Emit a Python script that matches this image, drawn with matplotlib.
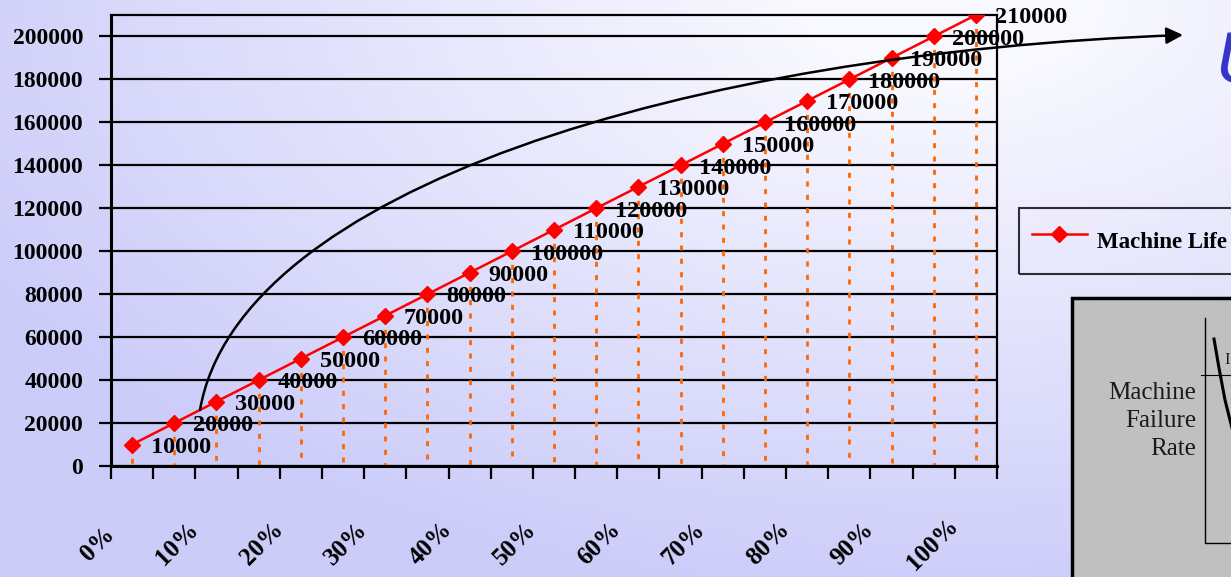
import numpy as np
import matplotlib
matplotlib.use('Agg')
import matplotlib.pyplot as plt
from matplotlib.path import Path
from matplotlib.patches import FancyArrowPatch, Rectangle
from matplotlib.lines import Line2D
from matplotlib.transforms import ScaledTranslation

# data
machine_life = [10000, 20000, 30000, 40000, 50000, 60000, 70000, 80000, 90000, 100000,
                110000, 120000, 130000, 140000, 150000, 160000, 170000, 180000, 190000,
                200000, 210000]
pct_labels = ['0%', '10%', '20%', '30%', '40%', '50%', '60%', '70%', '80%', '90%', '100%']
y_ticks = [0, 20000, 40000, 60000, 80000, 100000, 120000, 140000, 160000, 180000, 200000]
legend_label = 'Machine Life'
inset_text = 'Machine\nFailure\nRate'

plt.rcParams['font.family'] = ['Liberation Serif', 'DejaVu Serif']

W, H = 1231, 577
fig = plt.figure(figsize=(W / 100, H / 100), dpi=100)


def px(x, y):
    # pixel position (from top left) -> figure fraction
    return (x / W, 1 - y / H)


# background gradient
bg = fig.add_axes([0, 0, 1, 1], zorder=-10)
xx, yy = np.meshgrid(np.linspace(0, W, 300), np.linspace(0, H, 150))
d = np.sqrt(((xx - 950) / 1000) ** 2 + (yy / 550) ** 2)
t = np.clip(1.15 - 1.05 * d, 0, 1)
dark = np.array([0.80, 0.80, 0.98])
light = np.array([0.975, 0.975, 1.0])
bg.imshow(dark + t[..., None] * (light - dark), extent=[0, W, H, 0], aspect='auto')
bg.set_xlim(0, W)
bg.set_ylim(H, 0)
bg.axis('off')

# main chart
ax = fig.add_axes([111 / W, 1 - 466 / H, (997 - 111) / W, (466 - 15) / H])
ax.set_facecolor('none')
x = np.arange(len(machine_life))

ax.vlines(x, machine_life, 0, colors='#ff6600', lw=2.0, linestyles=(0, (1.8, 3.0)), zorder=2)
ln, = ax.plot(x, machine_life, color='red', lw=1.8, marker='D', ms=8, label=legend_label, zorder=3)

for i, v in zip(x, machine_life):
    ax.annotate(str(v), (i, v), xytext=(13.5, -2), textcoords='offset points',
                ha='left', va='center', fontsize=17.5, fontweight='bold', zorder=5)

ax.set_xlim(-0.5, len(machine_life) - 0.5)
ax.set_ylim(0, 210000)

ax.set_yticks(y_ticks)
ax.set_yticklabels([str(v) for v in y_ticks], fontsize=17, fontweight='bold')
ax.yaxis.grid(True, color='black', lw=1.6)
ax.set_axisbelow(True)
ax.tick_params(axis='y', direction='out', length=9, width=1.6, pad=11)

ax.set_xticks(np.arange(-0.5, len(machine_life), 1), minor=True)
ax.set_xticks(x[::2])
ax.set_xticklabels(pct_labels, fontsize=18, fontweight='bold', rotation=45, ha='right', va='center')
ax.tick_params(axis='x', which='minor', direction='out', length=9, width=1.6)
ax.tick_params(axis='x', which='major', length=0, pad=56)
for lab in ax.get_xticklabels():
    lab.set_transform(lab.get_transform() + ScaledTranslation(-0.13, 0, fig.dpi_scale_trans))

for side in ['left', 'bottom']:
    ax.spines[side].set_linewidth(2.2)
for side in ['top', 'right']:
    ax.spines[side].set_linewidth(1.6)

# legend (runs off the right edge like the slide)
leg = fig.legend(handles=[ln], loc='upper left', bbox_to_anchor=px(1019, 208), borderaxespad=0,
                 fancybox=False, edgecolor='black', facecolor='none', framealpha=None,
                 prop={'size': 16.5, 'weight': 'bold'}, handlelength=2.4, handletextpad=0.45,
                 borderpad=0.55, handleheight=2.35)
leg.get_frame().set_linewidth(1.5)

# curved arrow
pts = [px(200, 410), px(238, 190), px(685, 53), px(1183, 35)]
arrow = FancyArrowPatch(path=Path(pts, [Path.MOVETO, Path.CURVE4, Path.CURVE4, Path.CURVE4]),
                        arrowstyle='-|>', mutation_scale=25, lw=1.8, color='black',
                        transform=fig.transFigure)
fig.add_artist(arrow)

# bathtub picture at bottom right
box = Rectangle(px(1072, 640), 300 / W, (640 - 298) / H, transform=fig.transFigure,
                facecolor='#c0c0c0', edgecolor='black', lw=2.5)
fig.add_artist(box)
for xs, ys, lw in [([1205, 1205, 1245], [318, 543, 543], 1.0),
                   ([1201, 1245], [375, 375], 0.8),
                   ([1214, 1219, 1225, 1232], [339, 368, 400, 428], 2.2)]:
    fig.add_artist(Line2D([a / W for a in xs], [1 - b / H for b in ys], color='black', lw=lw,
                          transform=fig.transFigure))
fig.text(*px(1196, 421), inset_text, ha='right', va='center', fontsize=18, color='#1a1a1a',
         linespacing=1.35)
fig.text(*px(1224, 360), 'I', ha='left', va='center', fontsize=12, color='#1a1a1a')

# blue handwriting letter cut by the right edge
fig.text(*px(1216, 82), 'U', ha='left', va='baseline', fontsize=49, color='#3535cc',
         style='italic', family='DejaVu Sans')

fig.savefig('out.png', dpi=100)
